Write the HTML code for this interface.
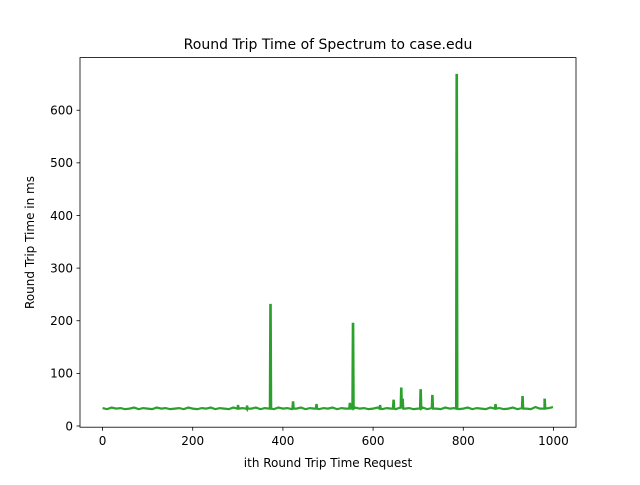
<!DOCTYPE html>
<html><head><meta charset="utf-8"><style>
html,body{margin:0;padding:0;background:#fff;}
svg text{font-family:"DejaVu Sans","Liberation Sans",sans-serif;fill:#000;}
</style></head><body>
<svg id="chart" width="640" height="480" viewBox="0 0 640 480">
<rect x="0" y="0" width="640" height="480" fill="#fff"/>
<text x="328" y="49" font-size="14" text-anchor="middle">Round Trip Time of Spectrum to case.edu</text>
<text x="328" y="467" font-size="12" text-anchor="middle">ith Round Trip Time Request</text>
<text transform="translate(34,242.5) rotate(-90)" font-size="12" text-anchor="middle">Round Trip Time in ms</text>
<g id="ticks"></g>
<polyline id="line" fill="none" stroke="#2ca02c" stroke-width="2.2" stroke-linejoin="miter"/>
<rect x="80" y="57.6" width="496" height="369.6" fill="none" stroke="#000" stroke-width="0.8"/>
</svg>
<script>
const xTicks=[0,200,400,600,800,1000];
const yTicks=[0,100,200,300,400,500,600];
const baseVals=[34,32,35,33,34,32,33,35,32,34,33,32,35,33,34,32,33,34,32,35,33,32,34,33,35,32,34,33,32,35,33,34,32,33,35,32,34,33,32,35,33,34,32,33,35,32,34,33,32,34,33,35,32,34,33,32,35,33,34,32,33,35,32,34,33,32,35,33,34,32,33,35,32,34,33,32,35,33,34,32,33,35,32,34,33,32,35,33,34,32,33,35,32,34,33,32,36,33,35,34,36];
const spikeIdx=[300,320,372,422,474,548,555,615,645,662,665,705,731,785,871,931,980];
const spikeVals=[38,37,230,45,40,42,194,38,48,71,50,68,57,667,40,55,50];
const X=v=>80+(v+50)/1100*496;
const Y=v=>427.2-(v+2.3)/(700-(-2.3))*369.6;
const g=document.getElementById('ticks');
const NS='http://www.w3.org/2000/svg';
xTicks.forEach(t=>{
  const l=document.createElementNS(NS,'line');
  l.setAttribute('x1',X(t));l.setAttribute('x2',X(t));l.setAttribute('y1',427.2);l.setAttribute('y2',430.7);l.setAttribute('stroke','#000');l.setAttribute('stroke-width','0.8');
  
  
  g.appendChild(l);
  const tx=document.createElementNS(NS,'text');
  tx.setAttribute('x',X(t));tx.setAttribute('y',445);tx.setAttribute('font-size','12');tx.setAttribute('text-anchor','middle');tx.textContent=t;
  
  
  g.appendChild(tx);
});
yTicks.forEach(t=>{
  const l=document.createElementNS(NS,'line');
  l.setAttribute('x1',76.5);l.setAttribute('x2',80);l.setAttribute('y1',Y(t));l.setAttribute('y2',Y(t));l.setAttribute('stroke','#000');l.setAttribute('stroke-width','0.8');
  
  
  g.appendChild(l);
  const tx=document.createElementNS(NS,'text');
  tx.setAttribute('x',73);tx.setAttribute('y',Y(t)+4.3);tx.setAttribute('font-size','12');tx.setAttribute('text-anchor','end');tx.textContent=t;
  
  
  g.appendChild(tx);
});
let pts=[];
baseVals.forEach((v,i)=>pts.push([Math.min(i*10,999),v]));
spikeIdx.forEach((s,k)=>{pts.push([s-1,33]);pts.push([s,spikeVals[k]]);pts.push([s+1,spikeVals[k]]);pts.push([s+2,33]);});
pts.sort((a,b)=>a[0]-b[0]);
document.getElementById('line').setAttribute('points',pts.map(p=>X(p[0]).toFixed(2)+','+Y(p[1]).toFixed(2)).join(' '));
</script>
</body></html>
